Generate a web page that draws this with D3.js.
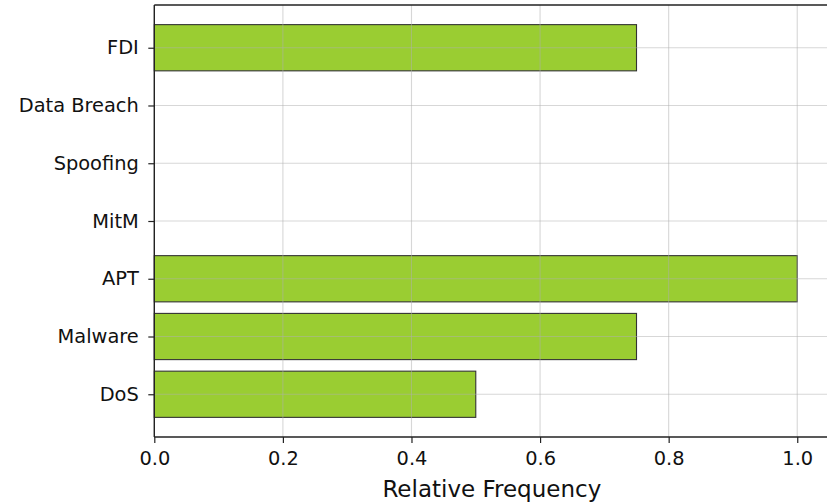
<!DOCTYPE html>
<html>
<head>
<meta charset="utf-8">
<script src="https://cdn.jsdelivr.net/npm/d3@7"></script>
<style>
  html, body { margin: 0; padding: 0; background: #fff; }
  svg { display: block; font-family: "DejaVu Sans", sans-serif; }
</style>
</head>
<body>
<svg id="chart" width="827" height="503"></svg>
<script>
// Data (bottom to top)
const categories = ["DoS", "Malware", "APT", "MitM", "Spoofing", "Data Breach", "FDI"];
const values = [0.5, 0.75, 1.0, 0, 0, 0, 0.75];
const xTicks = [0.0, 0.2, 0.4, 0.6, 0.8, 1.0];
const xLabel = "Relative Frequency";

const svg = d3.select("#chart");
const mLeft = 154.3, mRight = 829.4, mTop = 5, mBottom = 437;

const x = d3.scaleLinear().domain([0, 1.05]).range([mLeft, mRight]);
const y = d3.scaleLinear().domain([-0.74, categories.length - 1 + 0.74]).range([mBottom, mTop]);
const barH = 0.8;

// bars
const data = categories.map((c, i) => ({c, i, v: values[i]}));
svg.append("g").selectAll("rect").data(data.filter(d => d.v > 0)).join("rect")
  .attr("x", x(0))
  .attr("y", d => y(d.i + barH / 2))
  .attr("width", d => x(d.v) - x(0))
  .attr("height", d => y(d.i - barH / 2) - y(d.i + barH / 2))
  .attr("fill", "#9acd32")
  .attr("stroke", "#333")
  .attr("stroke-width", 1.1);

// grid (on top, semi-transparent)
const grid = svg.append("g").attr("stroke", "#b0b0b0").attr("stroke-opacity", 0.5).attr("stroke-width", 1.1);
xTicks.forEach(t => {
  grid.append("line").attr("x1", x(t)).attr("x2", x(t)).attr("y1", mTop).attr("y2", mBottom);
});
categories.forEach((c, i) => {
  grid.append("line").attr("x1", mLeft).attr("x2", mRight).attr("y1", y(i)).attr("y2", y(i));
});

// axes
const xAxis = d3.axisBottom(x).tickValues(xTicks).tickFormat(d3.format(".1f")).tickSize(6).tickPadding(8.7);
const gx = svg.append("g").attr("transform", `translate(0,${mBottom})`).call(xAxis);
const yAxis = d3.axisLeft(y).tickValues(d3.range(categories.length)).tickFormat(i => categories[i]).tickSize(6).tickPadding(9.5);
const gy = svg.append("g").attr("transform", `translate(${mLeft},0)`).call(yAxis);

[gx, gy].forEach(g => {
  g.select(".domain").remove();
  g.selectAll(".tick line").attr("stroke", "#222").attr("stroke-width", 1.2);
  g.selectAll(".tick text").attr("font-family", "DejaVu Sans").attr("font-size", 19.4).attr("fill", "#111");
});

// spines
const sp = svg.append("g").attr("stroke", "#222").attr("stroke-width", 1.4).attr("fill", "none");
sp.append("line").attr("x1", mLeft).attr("x2", mLeft).attr("y1", mTop).attr("y2", mBottom);
sp.append("line").attr("x1", mLeft).attr("x2", mRight).attr("y1", mBottom).attr("y2", mBottom);
sp.append("line").attr("x1", mLeft).attr("x2", mRight).attr("y1", mTop).attr("y2", mTop);
sp.append("line").attr("x1", mRight).attr("x2", mRight).attr("y1", mTop).attr("y2", mBottom);

// x label
svg.append("text")
  .attr("x", (mLeft + mRight) / 2)
  .attr("y", 496.7)
  .attr("text-anchor", "middle")
  .attr("font-size", 23)
  .attr("fill", "#111")
  .text(xLabel);
</script>
</body>
</html>
